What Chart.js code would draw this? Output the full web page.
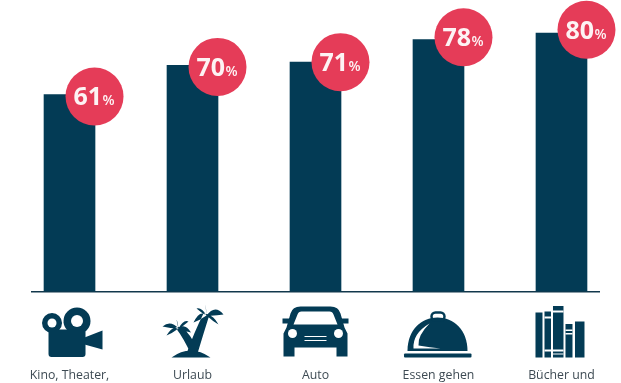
<!DOCTYPE html>
<html>
<head>
<meta charset="utf-8">
<script src="https://cdn.jsdelivr.net/npm/chart.js@4"></script>
<style>
  html, body { margin: 0; padding: 0; background: #fff; overflow: hidden; }
  #wrap { width: 621px; height: 383px; }
</style>
</head>
<body>
<div id="wrap"><canvas id="chart"></canvas></div>
<script>
const categories = ["Kino, Theater,", "Urlaub", "Auto", "Essen gehen", "Bücher und"];
const shares = [61, 70, 71, 78, 80];

const DARK = "#033b55";
const RED = "#e53c58";

// badge sits on the right corner of the bar, a little off the bar top
const badgeLift = [2, 1.5, 0, -2.3, -3.3];

function frond(p, x0, y0, x1, y1, bulge) {
  const mx = (x0 + x1) / 2, my = (y0 + y1) / 2;
  p.moveTo(x0, y0);
  p.quadraticCurveTo(mx, my - bulge, x1, y1);
  p.quadraticCurveTo(mx, my + 1, x0, y0);
}

function hole(ctx, x, y, r) {
  ctx.fillStyle = "#fff";
  ctx.beginPath();
  ctx.arc(x, y, r, 0, Math.PI * 2);
  ctx.fill();
  ctx.fillStyle = DARK;
}

// icons are drawn relative to the bar centre and the axis line
const icons = [
  function camera(ctx) {
    ctx.beginPath();
    ctx.arc(7.5, 29.5, 13.5, 0, Math.PI * 2);
    ctx.arc(-17.5, 31.5, 10, 0, Math.PI * 2);
    ctx.fill();
    ctx.beginPath();
    ctx.roundRect(-21, 38, 37, 27.5, 3);
    ctx.fill();
    ctx.beginPath();
    ctx.moveTo(15, 46);
    ctx.lineTo(33, 39);
    ctx.lineTo(33, 58);
    ctx.lineTo(15, 53);
    ctx.fill();
    hole(ctx, 7.5, 29.5, 6);
    hole(ctx, -17.5, 31.5, 4.5);
  },
  function palms(ctx) {
    const p = new Path2D();
    p.moveTo(-21, 66);
    p.quadraticCurveTo(-2, 52, 18, 66);
    p.closePath();
    p.moveTo(-6, 62);
    p.quadraticCurveTo(2, 40, 11, 22);
    p.lineTo(17, 23);
    p.quadraticCurveTo(11, 42, 5, 62);
    p.closePath();
    p.moveTo(-2, 62);
    p.quadraticCurveTo(-8, 48, -17, 36);
    p.lineTo(-11, 35);
    p.quadraticCurveTo(-1, 44, 4, 56);
    p.closePath();
    frond(p, 14, 24, 1, 31, 10);
    frond(p, 14, 24, 4, 17, 5);
    frond(p, 14, 24, 13, 13, 3);
    frond(p, 14, 24, 31, 23, 11);
    frond(p, 14, 24, 26, 33, 6);
    frond(p, -14, 37, -30, 35, 8);
    frond(p, -14, 37, -26, 44, 7);
    frond(p, -14, 37, -16, 28, 3);
    frond(p, -14, 37, -4, 30, 6);
    frond(p, -14, 37, -1.5, 41, 8);
    ctx.fill(p);
  },
  function car(ctx) {
    ctx.beginPath();
    ctx.moveTo(-29, 36);
    ctx.lineTo(-25, 22);
    ctx.quadraticCurveTo(-23, 15, -15, 15);
    ctx.lineTo(15, 15);
    ctx.quadraticCurveTo(23, 15, 25, 22);
    ctx.lineTo(29, 36);
    ctx.lineTo(32, 42);
    ctx.lineTo(32, 65);
    ctx.lineTo(21, 65);
    ctx.lineTo(21, 56);
    ctx.lineTo(-21, 56);
    ctx.lineTo(-21, 65);
    ctx.lineTo(-32, 65);
    ctx.lineTo(-32, 42);
    ctx.closePath();
    ctx.fill();
    ctx.fillRect(-33, 27, 8, 5);
    ctx.fillRect(25, 27, 8, 5);
    ctx.fillStyle = "#fff";
    ctx.beginPath();
    ctx.moveTo(-22, 33);
    ctx.lineTo(-18, 23);
    ctx.quadraticCurveTo(-17, 20, -14, 20);
    ctx.lineTo(14, 20);
    ctx.quadraticCurveTo(17, 20, 18, 23);
    ctx.lineTo(22, 33);
    ctx.closePath();
    ctx.fill();
    ctx.fillRect(-11, 44.5, 22, 1);
    ctx.fillRect(-11, 48.5, 22, 1);
    ctx.fillStyle = DARK;
    hole(ctx, -23, 42, 4.5);
    hole(ctx, 23, 42, 4.5);
  },
  function cloche(ctx) {
    ctx.beginPath();
    ctx.roundRect(-34.5, 62, 67.5, 4, 1);
    ctx.fill();
    ctx.beginPath();
    ctx.moveTo(-31, 59.5);
    ctx.bezierCurveTo(-31, 38, -17, 26, -1, 26);
    ctx.bezierCurveTo(15, 26, 29, 38, 29, 59.5);
    ctx.closePath();
    ctx.fill();
    ctx.lineWidth = 2.5;
    ctx.strokeStyle = DARK;
    ctx.beginPath();
    ctx.roundRect(-7, 21, 13, 8, 4);
    ctx.stroke();
    ctx.fillStyle = "#fff";
    ctx.beginPath();
    ctx.moveTo(-25, 57);
    ctx.quadraticCurveTo(-26, 42, -9, 32);
    ctx.quadraticCurveTo(-21, 44, -20, 54);
    ctx.quadraticCurveTo(-8, 56, 2, 57);
    ctx.closePath();
    ctx.fill();
    ctx.fillStyle = DARK;
  },
  function books(ctx) {
    ctx.fillRect(-26, 21, 7, 45);
    ctx.fillRect(-17, 20, 6.5, 46);
    ctx.fillRect(-8.5, 14.5, 10.5, 51.5);
    ctx.fillRect(4, 32.5, 7, 33.5);
    ctx.fillRect(13.5, 30, 9.5, 36);
    ctx.fillStyle = "#fff";
    ctx.fillRect(-17, 25, 6.5, 2);
    ctx.fillRect(-17, 58, 6.5, 2);
    ctx.fillRect(-8.5, 19, 10.5, 2);
    ctx.fillRect(-8.5, 58, 10.5, 2);
    ctx.fillRect(-8.5, 62, 10.5, 1);
    ctx.fillRect(4, 38, 7, 1.5);
    ctx.fillRect(4, 41.5, 7, 1.5);
    ctx.fillStyle = DARK;
  }
];

const decorations = {
  id: "decorations",
  afterDatasetsDraw(chart) {
    const ctx = chart.ctx;
    const bars = chart.getDatasetMeta(0).data;
    bars.forEach((bar, i) => {
      ctx.save();
      ctx.translate(bar.x, chart.chartArea.bottom);
      ctx.fillStyle = DARK;
      icons[i](ctx);
      ctx.restore();

      const cx = bar.x + 25;
      const cy = bar.y + badgeLift[i];
      ctx.save();
      ctx.fillStyle = RED;
      ctx.beginPath();
      ctx.arc(cx, cy, 29, 0, Math.PI * 2);
      ctx.fill();
      ctx.fillStyle = "#fdf3f4";
      ctx.textBaseline = "alphabetic";
      ctx.textAlign = "left";
      const num = String(shares[i]);
      ctx.font = "bold 25px 'Open Sans'";
      const nw = ctx.measureText(num).width;
      ctx.fillText(num, cx - 21, cy + 9);
      ctx.font = "600 14px 'Open Sans'";
      ctx.fillText("%", cx - 21 + nw + 0.5, cy + 9);
      ctx.restore();
    });
  }
};

new Chart(document.getElementById("chart"), {
  type: "bar",
  data: {
    datasets: [{
      data: shares.map((v, i) => ({ x: i, y: v })),
      backgroundColor: DARK,
      barThickness: 51
    }]
  },
  options: {
    responsive: true,
    maintainAspectRatio: false,
    animation: false,
    layout: { padding: { left: 32, right: 22, top: 10, bottom: 0 } },
    plugins: { legend: { display: false }, tooltip: { enabled: false } },
    scales: {
      x: {
        type: "linear",
        offset: false,
        min: -0.305,
        max: 4.305,
        grid: { display: false, drawTicks: false },
        border: { color: "#12384c", width: 1.5 },
        ticks: {
          stepSize: 1,
          includeBounds: false,
          autoSkip: false,
          maxRotation: 0,
          padding: 77,
          color: "#3d4a53",
          font: { family: "'Open Sans'", size: 12.3 },
          callback: (v) => categories[v] ?? ""
        },
        afterFit: (scale) => {
          scale.height = 91.5;
          // labels sit well inside the axis, no extra side room needed
          scale.paddingLeft = 0;
          scale.paddingRight = 0;
        }
      },
      y: {
        display: false,
        min: 0,
        max: 87.15
      }
    }
  },
  plugins: [decorations]
});
</script>
</body>
</html>
